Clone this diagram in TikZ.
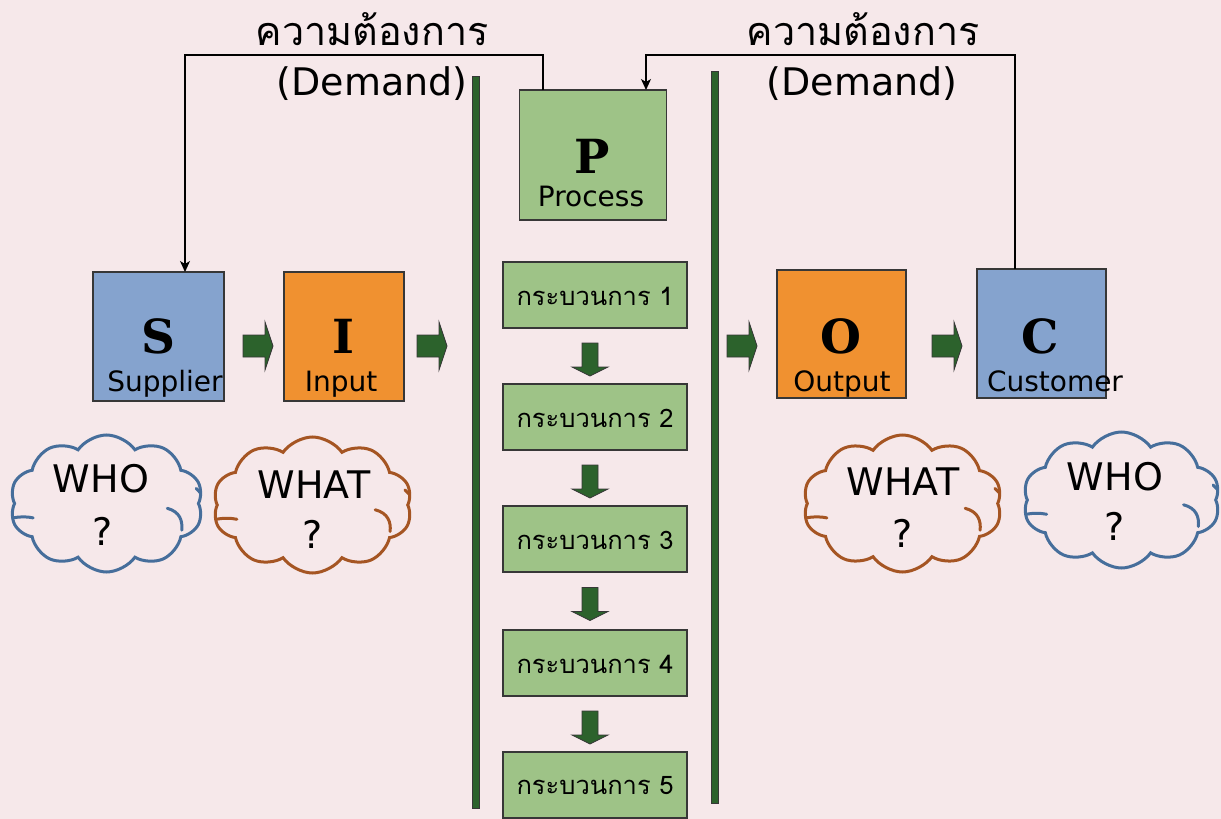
\documentclass[tikz,border=0pt]{standalone}
\usepackage{fontspec}
\setmainfont{DejaVu Sans}
\newfontfamily\thaifont[Script=Thai]{Loma}
\newfontfamily\bigserif{DejaVu Serif}
\usetikzlibrary{shapes.symbols,arrows.meta}
\definecolor{bgc}{RGB}{246,232,234}
\definecolor{sblue}{RGB}{133,163,206}
\definecolor{sorange}{RGB}{240,145,48}
\definecolor{sgreen}{RGB}{158,195,135}
\definecolor{dgreen}{RGB}{44,98,44}
\definecolor{bordc}{RGB}{55,55,55}
\definecolor{cblue}{RGB}{70,110,155}
\definecolor{cbrown}{RGB}{165,85,35}
\tikzset{
  box/.style={draw=bordc, line width=1.5pt, inner sep=0pt, outer sep=0pt},
  bigletter/.style={font=\bigserif\bfseries\fontsize{47}{47}\selectfont, anchor=base, inner sep=0pt},
  boxlabel/.style={font=\fontsize{28}{28}\selectfont, anchor=base, inner sep=0pt},
  proclabel/.style={font=\thaifont\fontsize{25.5}{25.5}\selectfont, inner sep=0pt},
  demandth/.style={font=\thaifont\fontsize{39.5}{39.5}\selectfont, anchor=base, inner sep=0pt},
  demanden/.style={font=\fontsize{38}{38}\selectfont, anchor=base, inner sep=0pt},
  blockarr/.style={fill=dgreen, draw=bordc, line width=0.8pt, line join=miter},
  bar/.style={fill=dgreen, draw=bordc, line width=1pt},
  cloudshape/.style={cloud, cloud puffs=10, cloud puff arc=110, cloud ignores aspect, line width=3pt, inner sep=0pt},
  cloudtext/.style={font=\fontsize{38}{38}\selectfont, anchor=base, inner sep=0pt},
  fbline/.style={draw=black, line width=1.3pt, -{Stealth[length=11pt,width=10pt,inset=3pt]}}
}
\newcommand{\harrowat}[1]{\draw[blockarr, shift={(#1)}] (-15,-11) -- (7,-11) -- (7,-24) -- (15,0) -- (7,24) -- (7,11) -- (-15,11) -- cycle;}
\newcommand{\varrowat}[1]{\draw[blockarr, shift={(#1)}] (-8,-16.5) -- (8,-16.5) -- (8,7.5) -- (18,7.5) -- (0,16.5) -- (-18,7.5) -- (-8,7.5) -- cycle;}
% inner wrinkles of a cloud: #1 node, #2 colour, #3 half width, #4 half height
\newcommand{\cloudarcs}[4]{%
  \draw[#2, line width=3pt, line cap=round, shift={(#1.center)}, xscale=#3, yscale=#4]
    (0.63,0.07) .. controls (0.76,0.12) and (0.79,0.25) .. (0.78,0.39)
    (-0.97,0.21) .. controls (-0.9,0.19) and (-0.82,0.19) .. (-0.76,0.21)
    (0.93,-0.22) .. controls (0.95,-0.2) .. (0.97,-0.16);}
\begin{document}
\begin{tikzpicture}[x=1pt,y=-1pt]
\fill[bgc] (0,0) rectangle (1221,819);
\useasboundingbox (0,0) rectangle (1221,819);

% bars
\draw[bar] (472,76) rectangle (479,808);
\draw[bar] (711,71) rectangle (718,803);

% boxes
\node[box, fill=sblue, minimum width=131pt, minimum height=129pt] (S) at (158.5,336.5) {};
\node[box, fill=sorange, minimum width=120pt, minimum height=129pt] (I) at (344,336.5) {};
\node[box, fill=sgreen, minimum width=147pt, minimum height=130pt] (P) at (593,155) {};
\node[box, fill=sorange, minimum width=129pt, minimum height=128pt] (O) at (841.5,334) {};
\node[box, fill=sblue, minimum width=129pt, minimum height=129pt] (C) at (1041.5,333.5) {};

\node[bigletter] (Sl) at (158,353) {S};
\node[bigletter] (Il) at (343,353) {I};
\node[bigletter] (Pl) at (592,173) {P};
\node[bigletter] (Ol) at (841,353) {O};
\node[bigletter] (Cl) at (1040,353) {C};

\node[boxlabel] (St) at (165,391) {Supplier};
\node[boxlabel] (It) at (341,391) {Input};
\node[boxlabel] (Pt) at (591,206) {Process};
\node[boxlabel] (Ot) at (842,391) {Output};
\node[boxlabel] (Ct) at (1055,391) {Customer};

% process boxes
\foreach \i/\y in {1/295,2/417,3/539,4/663,5/785}{
  \node[box, fill=sgreen, minimum width=184pt, minimum height=66pt] (p\i) at (595,\y) {};
  \node[proclabel] (pt\i) at (595,\y+1) {กระบวนการ \i};
}

% horizontal block arrows
\coordinate (a1) at (258,346);
\coordinate (a2) at (432,346);
\coordinate (a3) at (742,346);
\coordinate (a4) at (947,346);
\harrowat{a1}\harrowat{a2}\harrowat{a3}\harrowat{a4}

% vertical block arrows
\coordinate (d1) at (590,359.5);
\coordinate (d2) at (590,481.5);
\coordinate (d3) at (590,604);
\coordinate (d4) at (590,727.5);
\varrowat{d1}\varrowat{d2}\varrowat{d3}\varrowat{d4}

% demand labels
\node[demandth] (dl1) at (372,45) {ความต้องการ};
\node[demanden] (dl2) at (372,95) {(Demand)};
\node[demandth] (dr1) at (863,45) {ความต้องการ};
\node[demanden] (dr2) at (862,95) {(Demand)};

% feedback lines
\draw[fbline] ([xshift=-50pt]P.north) -- ++(0,-35) -| ([xshift=26.5pt]S.north);
\draw[fbline] ([xshift=-26.5pt]C.north) -- ++(0,-214) -| ([xshift=53pt]P.north);

% clouds
\node[cloudshape, draw=cblue, minimum width=193pt, minimum height=137pt] (c1) at (106.5,503.5) {};
\node[cloudshape, draw=cbrown, minimum width=199pt, minimum height=136pt] (c2) at (312.5,505) {};
\node[cloudshape, draw=cbrown, minimum width=199pt, minimum height=137pt] (c3) at (902.5,503.5) {};
\node[cloudshape, draw=cblue, minimum width=197pt, minimum height=136pt] (c4) at (1121.5,500) {};
\cloudarcs{c1}{cblue}{96.5}{68.5}
\cloudarcs{c2}{cbrown}{99.5}{68}
\cloudarcs{c3}{cbrown}{99.5}{68.5}
\cloudarcs{c4}{cblue}{98.5}{68}

\node[cloudtext] (w1) at (101,492) {WHO};
\node[cloudtext] (q1) at (103,545) {?};
\node[cloudtext] (w2) at (314,498) {WHAT};
\node[cloudtext] (q2) at (313,548) {?};
\node[cloudtext] (w3) at (903,495) {WHAT};
\node[cloudtext] (q3) at (903,547) {?};
\node[cloudtext] (w4) at (1115,490) {WHO};
\node[cloudtext] (q4) at (1115,540) {?};
\end{tikzpicture}
\end{document}
